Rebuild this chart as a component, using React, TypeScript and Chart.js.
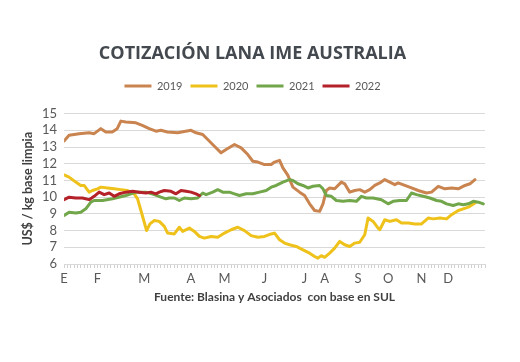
import React, { useEffect, useRef } from "react";
import { Chart, registerables } from "chart.js";

Chart.register(...registerables);

// x positions are indices along the year's sale dates (0..126)
const monthIdx = [0, 10, 24, 38, 48, 60, 72, 78, 88, 97, 107, 115];
const monthLbl = ["E", "F", "M", "A", "M", "J", "J", "A", "S", "O", "N", "D"];
const X_MAX = 126;

const x2019 = [0, 1.5, 4.5, 7.5, 9, 11, 12.5, 14.4, 15.9, 17, 18.5, 21.5, 23.4, 25.5, 27.5, 29, 30.9, 34, 38, 39.5, 41.5, 43, 45, 47, 48.5, 51, 53, 55, 56.5, 58, 60, 62, 63, 64.5, 65.5, 67, 68.5, 70.5, 72, 73.5, 75, 76.5, 77.5, 78.5, 79.5, 81, 83, 84, 85.5, 87, 88.5, 90, 91.5, 93, 94.5, 96, 97.5, 99, 100, 102, 104, 106, 108.5, 110, 112, 114, 116, 118, 120, 121.5, 123];
const y2019 = [13.36, 13.7, 13.8, 13.85, 13.8, 14.1, 13.9, 13.9, 14.1, 14.55, 14.5, 14.45, 14.3, 14.1, 13.95, 14.0, 13.9, 13.85, 14.0, 13.85, 13.75, 13.45, 13.05, 12.65, 12.85, 13.15, 12.95, 12.55, 12.15, 12.1, 11.95, 11.95, 12.1, 12.2, 11.75, 11.3, 10.6, 10.3, 10.1, 9.6, 9.2, 9.15, 9.6, 10.4, 10.55, 10.5, 10.9, 10.8, 10.3, 10.4, 10.45, 10.3, 10.45, 10.7, 10.85, 11.05, 10.9, 10.75, 10.85, 10.7, 10.55, 10.4, 10.25, 10.3, 10.65, 10.5, 10.55, 10.5, 10.7, 10.8, 11.05];

const x2020 = [0, 1.5, 3.5, 5, 6, 7.5, 8.5, 10, 11, 13, 15, 17, 19, 21, 22, 23, 24, 24.7, 25.7, 27, 28.5, 30, 31, 33, 34.5, 35.5, 37.5, 39, 40.5, 42, 44, 46, 48, 50, 52, 54, 56, 58, 60, 62, 63, 64.5, 66, 67.5, 69.5, 71.5, 73.5, 75, 76, 77, 78, 79.5, 81, 82.5, 84, 85.5, 87, 88.5, 90, 91, 92.5, 94, 94.5, 96, 97.5, 99.5, 101, 103, 105, 107, 109, 110.5, 112.5, 114.5, 116, 118, 119.5, 121, 123];
const y2020 = [11.33, 11.2, 10.9, 10.7, 10.7, 10.3, 10.4, 10.5, 10.6, 10.55, 10.5, 10.45, 10.4, 10.2, 9.9, 9.2, 8.5, 8.0, 8.4, 8.6, 8.55, 8.25, 7.85, 7.8, 8.2, 7.95, 8.15, 7.95, 7.65, 7.55, 7.65, 7.6, 7.85, 8.05, 8.2, 8.0, 7.7, 7.6, 7.65, 7.8, 7.85, 7.45, 7.25, 7.15, 7.05, 6.85, 6.65, 6.45, 6.35, 6.5, 6.4, 6.65, 6.95, 7.35, 7.15, 7.05, 7.25, 7.3, 7.75, 8.75, 8.55, 8.15, 8.05, 8.65, 8.55, 8.65, 8.45, 8.45, 8.4, 8.4, 8.75, 8.7, 8.75, 8.7, 8.95, 9.2, 9.3, 9.4, 9.65];

const x2021 = [0, 1.5, 3.5, 5, 6.5, 8, 9, 11.5, 14.5, 18.5, 21.5, 24.5, 27, 29, 30.5, 31.5, 33, 34.5, 36, 38, 40, 41.5, 42.5, 44.5, 46, 47.5, 49.5, 51, 52.5, 54.5, 56.5, 58.5, 60.5, 62, 63.5, 65.5, 67.5, 68.5, 70, 71.5, 73, 74.5, 76.5, 77.5, 78.5, 80, 81.5, 83.5, 85.5, 87.5, 89, 90.5, 92.5, 95, 97, 98.5, 100.5, 102.5, 104, 105.5, 107.5, 109.5, 111.5, 113, 114.5, 116.5, 118, 119.5, 121, 122.5, 124, 125.5];
const y2021 = [8.9, 9.1, 9.05, 9.1, 9.3, 9.7, 9.8, 9.8, 9.9, 10.1, 10.3, 10.3, 10.15, 10.0, 9.9, 9.95, 9.95, 9.8, 9.95, 9.9, 9.95, 10.25, 10.15, 10.3, 10.45, 10.3, 10.3, 10.2, 10.1, 10.2, 10.2, 10.3, 10.4, 10.6, 10.7, 10.9, 11.05, 11.0, 10.8, 10.7, 10.55, 10.65, 10.7, 10.5, 10.1, 10.05, 9.8, 9.75, 9.8, 9.75, 10.05, 9.95, 9.95, 9.85, 9.6, 9.75, 9.8, 9.8, 10.25, 10.15, 10.05, 9.95, 9.8, 9.75, 9.6, 9.5, 9.6, 9.55, 9.6, 9.75, 9.7, 9.6];

const x2022 = [0, 1.5, 3.5, 5.5, 7.5, 9, 10.5, 12, 13.5, 15, 16.5, 18.5, 20.5, 22.5, 24.5, 26, 27.5, 28.5, 30, 32, 33.5, 35, 36.5, 38, 39.5, 40.5];
const y2022 = [9.85, 10.0, 9.95, 9.95, 9.85, 10.05, 10.3, 10.15, 10.25, 10.05, 10.2, 10.3, 10.35, 10.3, 10.25, 10.3, 10.2, 10.3, 10.4, 10.35, 10.2, 10.4, 10.35, 10.3, 10.2, 10.1];

const yTicks = [6, 7, 8, 9, 10, 11, 12, 13, 14, 15];

const pts = (xs: number[], ys: number[]) => xs.map((x, i) => ({ x, y: ys[i] }));

const FONT = "Lato, 'Open Sans', sans-serif";

const legendGap = {
  id: "legendGap",
  beforeInit(chart: any) {
    const orig = chart.legend.fit;
    chart.legend.fit = function () {
      orig.bind(chart.legend)();
      this.height += 12;
    };
  },
};

export default function App() {
  const ref = useRef<HTMLCanvasElement>(null);
  useEffect(() => {
    if (!ref.current) return;
    const mk = (label: string, xs: number[], ys: number[], color: string, order: number) => ({
      label,
      data: pts(xs, ys),
      borderColor: color,
      backgroundColor: color,
      borderWidth: 3,
      pointRadius: 0,
      tension: 0,
      borderCapStyle: "round" as const,
      borderJoinStyle: "round" as const,
      order,
    });
    const chart = new Chart(ref.current, {
      type: "line",
      data: {
        datasets: [
          mk("2019", x2019, y2019, "#C98450", 4),
          mk("2020", x2020, y2020, "#EEC21A", 3),
          mk("2021", x2021, y2021, "#72A64A", 2),
          mk("2022", x2022, y2022, "#B42128", 1),
        ],
      },
      plugins: [legendGap],
      options: {
        animation: false,
        responsive: false,
        layout: { padding: { left: 20, right: 35, top: 0, bottom: 58 } },
        plugins: {
          tooltip: { enabled: false },
          title: {
            display: true,
            text: "COTIZACIÓN LANA IME AUSTRALIA",
            color: "#44494F",
            font: { family: "'Open Sans', sans-serif", size: 18, weight: "bold" },
            padding: { top: 43, bottom: 8 },
          },
          legend: {
            display: true,
            position: "top",
            reverse: true,
            labels: {
              usePointStyle: true,
              pointStyle: "line",
              pointStyleWidth: 27,
              color: "#595959",
              font: { family: FONT, size: 11 },
              padding: 8,
            },
          },
        },
        scales: {
          x: {
            type: "linear",
            min: 0,
            max: X_MAX,
            afterBuildTicks: (scale: any) => {
              scale.ticks = Array.from({ length: X_MAX + 1 }, (_, i) => ({ value: i }));
            },
            ticks: {
              autoSkip: false,
              maxRotation: 0,
              padding: 3,
              color: "#595959",
              font: { family: FONT, size: 13 },
              callback: (v: any) => {
                const i = monthIdx.indexOf(Number(v));
                return i >= 0 ? monthLbl[i] : "";
              },
            },
            grid: { drawOnChartArea: false, drawTicks: true, tickLength: 4, color: "#D0D0D0" },
            border: { display: true, color: "#D9D9D9" },
            title: {
              display: true,
              text: "Fuente: Blasina y Asociados  con base en SUL",
              color: "#404040",
              font: { family: FONT, size: 12, weight: "bold" },
              padding: { top: 0, bottom: 0 },
            },
          },
          y: {
            type: "linear",
            min: 6,
            max: 15,
            afterBuildTicks: (scale: any) => {
              scale.ticks = yTicks.map((v) => ({ value: v }));
            },
            ticks: {
              autoSkip: false,
              color: "#595959",
              font: { family: FONT, size: 13 },
              padding: 7,
            },
            grid: { color: "#D9D9D9", drawTicks: false },
            border: { display: false },
            title: {
              display: true,
              text: "US$ / kg base limpia",
              color: "#404040",
              font: { family: FONT, size: 12.5, weight: "bold" },
              padding: { top: 0, bottom: 0 },
            },
          },
        },
      },
    } as any);
    return () => chart.destroy();
  }, []);
  return (
    <div style={{ position: "absolute", left: 0, top: 0, width: 520, height: 362, background: "#fff" }}>
      <canvas ref={ref} width={520} height={362} style={{ display: "block" }} />
    </div>
  );
}
